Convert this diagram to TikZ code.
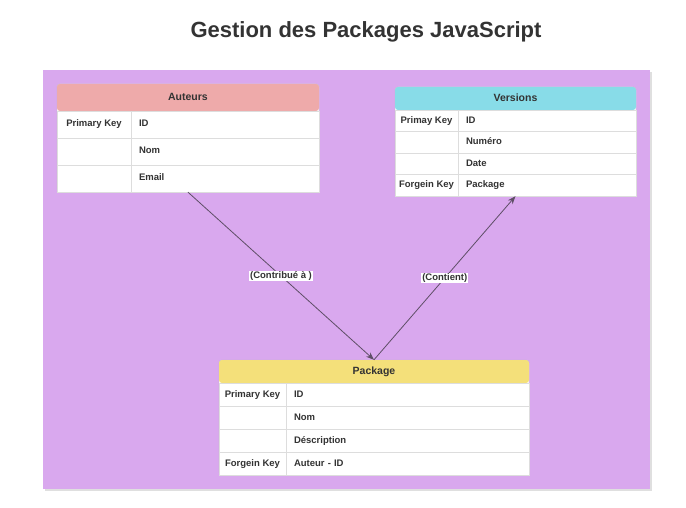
\documentclass[tikz,border=0pt]{standalone}
\usepackage{fontspec}
\setmainfont{Liberation Sans}
\usetikzlibrary{arrows.meta,positioning,calc}
\definecolor{clrPanel}{HTML}{D9A8EE}
\definecolor{clrAu}{HTML}{EEAAAA}
\definecolor{clrVe}{HTML}{88DCE8}
\definecolor{clrPk}{HTML}{F4E07A}
\definecolor{clrTxt}{HTML}{333333}
\definecolor{clrRule}{HTML}{DDDDDD}
\definecolor{clrLink}{HTML}{5E4E66}
\tikzset{
  frame/.style={rectangle,rounded corners=3pt,draw=clrRule!85!black,fill=white,inner sep=0pt},
  head/.style={rectangle,rounded corners=3pt,inner sep=0pt,text height=7.5pt,text depth=2pt,
    font=\fontsize{10.5}{12}\selectfont\bfseries,text=clrTxt},
  cell/.style={rectangle,draw=clrRule,fill=white,inner sep=0pt,text height=7pt,text depth=2pt,
    font=\fontsize{9.5}{11}\selectfont\bfseries,text=clrTxt},
  keycell/.style={cell,minimum width=#1,align=center},
  valcell/.style={cell,inner xsep=8pt,text width=#1,align=left},
  link/.style={-{Stealth[length=8pt,width=6pt]},draw=clrLink,line width=0.8pt},
  tag/.style={font=\fontsize{9.5}{10}\selectfont\bfseries,text=clrTxt,fill=white,inner sep=1pt}
}
\begin{document}
\begin{tikzpicture}[x=1pt,y=-1pt]
  \useasboundingbox (0,0) rectangle (686,508);
  % panel
  \fill[gray!25] (45,72) rectangle (652,491);
  \fill[clrPanel] (43,70) rectangle (650,489);
  \node[font=\fontsize{22}{26}\selectfont\bfseries,text=clrTxt] (title) at (366,32)
    {Gestion des Packages JavaScript};
  % Auteurs
  \node[frame,minimum width=262pt,minimum height=108pt] (auteurs) at (188,138) {};
  \node[head,fill=clrAu,minimum width=262pt,minimum height=27pt] (auHead) at (188,97.5) {Auteurs};
  \node[keycell=74pt,minimum height=27pt] (auIdK) at (94,124.5) {Primary Key};
  \node[valcell=172pt,minimum height=27pt] (auIdV) at (225,124.5) {ID};
  \node[keycell=74pt,minimum height=27pt] (auNomK) at (94,151.5) {};
  \node[valcell=172pt,minimum height=27pt] (auNomV) at (225,151.5) {Nom};
  \node[keycell=74pt,minimum height=27pt] (auMailK) at (94,178.5) {};
  \node[valcell=172pt,minimum height=27pt] (auMailV) at (225,178.5) {Email};
  % Versions
  \node[frame,minimum width=241pt,minimum height=109pt] (versions) at (515.5,141.5) {};
  \node[head,fill=clrVe,minimum width=241pt,minimum height=23pt] (veHead) at (515.5,98.5) {Versions};
  \node[keycell=63pt,minimum height=21.5pt] (veIdK) at (426.5,120.75) {Primay Key};
  \node[valcell=162pt,minimum height=21.5pt] (veIdV) at (547,120.75) {ID};
  \node[keycell=63pt,minimum height=21.5pt] (veNumK) at (426.5,142.25) {};
  \node[valcell=162pt,minimum height=21.5pt] (veNumV) at (547,142.25) {Numéro};
  \node[keycell=63pt,minimum height=21.5pt] (veDateK) at (426.5,163.75) {};
  \node[valcell=162pt,minimum height=21.5pt] (veDateV) at (547,163.75) {Date};
  \node[keycell=63pt,minimum height=21.5pt] (vePkgK) at (426.5,185.25) {Forgein Key};
  \node[valcell=162pt,minimum height=21.5pt] (vePkgV) at (547,185.25) {Package};
  % Package
  \node[frame,minimum width=310pt,minimum height=115pt] (package) at (374,417.5) {};
  \node[head,fill=clrPk,minimum width=310pt,minimum height=23pt] (pkHead) at (374,371.5) {Package};
  \node[keycell=67pt,minimum height=23pt] (pkIdK) at (252.5,394.5) {Primary Key};
  \node[valcell=227pt,minimum height=23pt] (pkIdV) at (407.5,394.5) {ID};
  \node[keycell=67pt,minimum height=23pt] (pkNomK) at (252.5,417.5) {};
  \node[valcell=227pt,minimum height=23pt] (pkNomV) at (407.5,417.5) {Nom};
  \node[keycell=67pt,minimum height=23pt] (pkDescK) at (252.5,440.5) {};
  \node[valcell=227pt,minimum height=23pt] (pkDescV) at (407.5,440.5) {Déscription};
  \node[keycell=67pt,minimum height=23pt] (pkAuK) at (252.5,463.5) {Forgein Key};
  \node[valcell=227pt,minimum height=23pt] (pkAuV) at (407.5,463.5) {Auteur - ID};
  % links
  \draw[link] (auteurs.south) -- node[tag] {(Contribué à )} (package.north);
  \draw[link] (package.north) -- node[tag] {(Contient)} (versions.south);
\end{tikzpicture}
\end{document}
